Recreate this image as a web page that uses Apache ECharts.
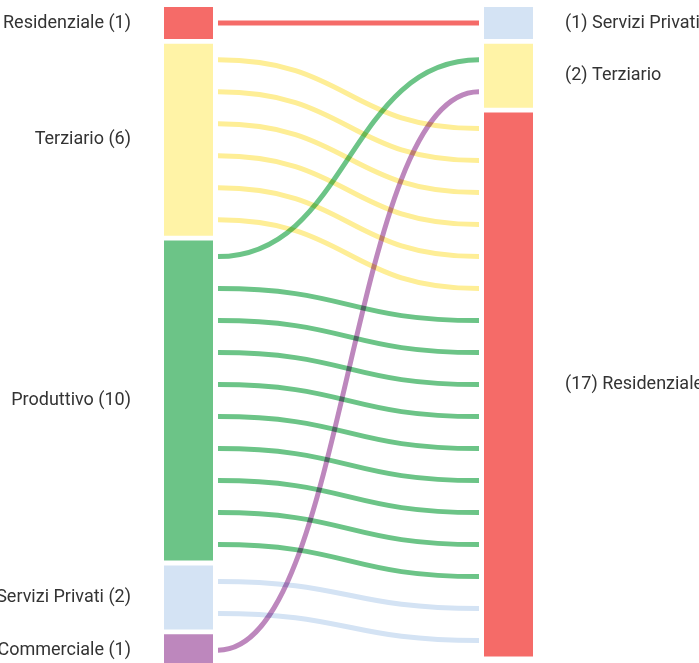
<!DOCTYPE html>
<html>
<head>
<meta charset="utf-8">
<script src="https://cdn.jsdelivr.net/npm/echarts@6/dist/echarts.min.js"></script>
<style>
  html, body { margin: 0; padding: 0; background: #fff; }
  #chart { width: 699px; height: 663px; }
</style>
</head>
<body>
<div id="chart"></div>
<script>
  // nodes of the two columns, in drawing order (top to bottom)
  const leftNodes = ['Residenziale', 'Terziario', 'Produttivo', 'Servizi Privati', 'Commerciale'];
  const rightNodes = ['Servizi Privati', 'Terziario', 'Residenziale'];
  // flows: source (left) -> target (right), number of units
  const linkSource = ['Residenziale', 'Terziario', 'Produttivo', 'Produttivo', 'Servizi Privati', 'Commerciale'];
  const linkTarget = ['Servizi Privati', 'Residenziale', 'Terziario', 'Residenziale', 'Residenziale', 'Terziario'];
  const linkValue = [1, 6, 1, 9, 2, 1];

  const colors = {
    'Residenziale': '#f56b68',
    'Terziario': '#fff3a6',
    'Produttivo': '#6cc487',
    'Servizi Privati': '#d4e3f4',
    'Commerciale': '#bd87bd'
  };
  const lineColors = {
    'Residenziale': '#f56b68',
    'Terziario': '#feee96',
    'Produttivo': '#6cc487',
    'Servizi Privati': '#d4e3f4',
    'Commerciale': '#bd87bd'
  };

  const gap = 0.15; // padding between nodes, in units

  // simple sankey layout in "unit" space
  function nodeTotals(names, key) {
    return names.map(n => {
      let s = 0;
      linkValue.forEach((v, i) => { if ((key === 's' ? linkSource[i] : linkTarget[i]) === n) s += v; });
      return s;
    });
  }
  function stack(names, totals) {
    let y = 0;
    return names.map((n, i) => {
      const r = { name: n, value: totals[i], y0: y, y1: y + totals[i] };
      y += totals[i] + gap;
      return r;
    });
  }
  const left = stack(leftNodes, nodeTotals(leftNodes, 's'));
  const right = stack(rightNodes, nodeTotals(rightNodes, 't'));
  const findL = n => left.find(d => d.name === n);
  const findR = n => right.find(d => d.name === n);

  // link slots: in source sorted by target position, in target sorted by source position
  const idx = linkValue.map((v, i) => i);
  const srcOff = {}, tgtOff = {};
  left.forEach(n => srcOff[n.name] = n.y0);
  right.forEach(n => tgtOff[n.name] = n.y0);
  const srcStart = {}, tgtStart = {};
  idx.slice().sort((a, b) => findR(linkTarget[a]).y0 - findR(linkTarget[b]).y0).forEach(i => {
    srcStart[i] = srcOff[linkSource[i]];
    srcOff[linkSource[i]] += linkValue[i];
  });
  idx.slice().sort((a, b) => findL(linkSource[a]).y0 - findL(linkSource[b]).y0).forEach(i => {
    tgtStart[i] = tgtOff[linkTarget[i]];
    tgtOff[linkTarget[i]] += linkValue[i];
  });

  const lineData = [];
  idx.forEach(i => {
    for (let k = 0; k < linkValue[i]; k++) {
      lineData.push({
        value: [0, srcStart[i] + k + 0.5, 1, tgtStart[i] + k + 0.5],
        color: lineColors[linkSource[i]]
      });
    }
  });

  const nodeData = [];
  left.forEach(n => nodeData.push({ value: [0, n.y0, n.y1], name: n.name, total: n.value, side: 'left' }));
  right.forEach(n => nodeData.push({ value: [1, n.y0, n.y1], name: n.name, total: n.value, side: 'right' }));

  const NODE_W = 49;
  const LINK_PAD = 5;

  const chart = echarts.init(document.getElementById('chart'), null, { renderer: 'canvas' });
  chart.setOption({
    animation: false,
    grid: { left: 164, right: 166, top: 7, bottom: 0 },
    xAxis: { type: 'value', min: 0, max: 1, show: false },
    yAxis: { type: 'value', min: 0, max: 20.5, inverse: true, show: false },
    series: [
      {
        type: 'custom',
        clip: false,
        data: lineData,
        renderItem: function (params, api) {
          const d = lineData[params.dataIndex];
          const p0 = api.coord([d.value[0], d.value[1]]);
          const p1 = api.coord([d.value[2], d.value[3]]);
          const x0 = p0[0] + NODE_W + LINK_PAD;
          const x1 = p1[0] - NODE_W - LINK_PAD;
          const xm = (x0 + x1) / 2;
          return {
            type: 'bezierCurve',
            shape: { x1: x0, y1: p0[1], x2: x1, y2: p1[1], cpx1: xm, cpy1: p0[1], cpx2: xm, cpy2: p1[1] },
            style: { stroke: d.color, fill: null, lineWidth: 5, blend: 'multiply' }
          };
        }
      },
      {
        type: 'custom',
        clip: false,
        data: nodeData,
        renderItem: function (params, api) {
          const d = nodeData[params.dataIndex];
          const top = api.coord([d.value[0], d.value[1]]);
          const bot = api.coord([d.value[0], d.value[2]]);
          const isLeft = d.side === 'left';
          const x = isLeft ? top[0] : top[0] - NODE_W;
          const label = isLeft ? d.name + ' (' + d.total + ')' : '(' + d.total + ') ' + d.name;
          return {
            type: 'group',
            children: [
              {
                type: 'rect',
                shape: { x: x, y: top[1], width: NODE_W, height: bot[1] - top[1] },
                style: { fill: colors[d.name] }
              },
              {
                type: 'text',
                style: {
                  x: isLeft ? x - 33 : x + NODE_W + 32,
                  y: (top[1] + bot[1]) / 2,
                  text: label,
                  textAlign: isLeft ? 'right' : 'left',
                  textVerticalAlign: 'middle',
                  fill: '#333',
                  font: '18px Roboto'
                }
              }
            ]
          };
        }
      }
    ]
  });

  // the links overlap with a multiply blend
  const zr = chart.getZr();
  zr.storage.getDisplayList(true).forEach(function (el) {
    if (el.type === 'bezier-curve') {
      el.style.blend = 'multiply';
      el.markRedraw();
    }
  });
  zr.refreshImmediately();
</script>
</body>
</html>
